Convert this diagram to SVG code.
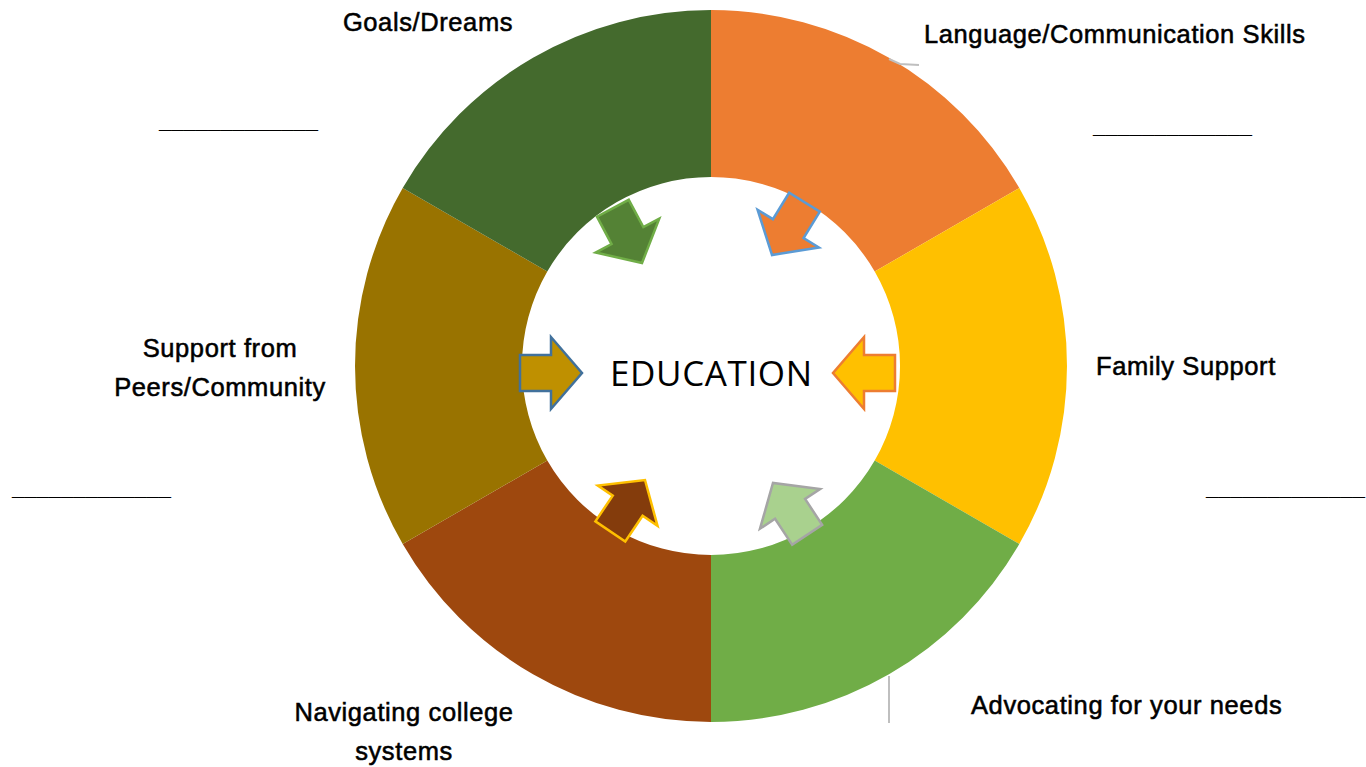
<svg xmlns="http://www.w3.org/2000/svg" xmlns:xlink="http://www.w3.org/1999/xlink" width="1366" height="767" viewBox="0 0 1366 767">
<style>
.lbl{font-family:"Liberation Sans",Arial,sans-serif;font-size:25.5px;letter-spacing:0.6px;fill:#000;stroke:#000;stroke-width:0.55px}
.c{text-anchor:middle}
.ul{font-family:"Liberation Sans",Arial,sans-serif;font-size:22px;font-weight:bold;fill:#000}
.ctr{font-family:"Open Sans","Noto Sans",sans-serif;font-size:35px;fill:#000;text-anchor:middle}
.arr{stroke-width:2.5;stroke-linejoin:miter}
.lead{fill:none;stroke:#BFBFBF;stroke-width:2}
</style>
<defs>
<polygon id="arrow" points="-62,-18 -31,-18 -31,-36 0,0 -31,36 -31,18 -62,18"/>
</defs>
<rect width="1366" height="767" fill="#fff"/>
<g id="ring">
<path id="seg-language" d="M711,10 A356,356 0 0 1 1019.3,188 L874.7,271.5 A189,189 0 0 0 711,177 Z" fill="#ED7D31"/>
<path id="seg-family" d="M1019.3,188 A356,356 0 0 1 1019.3,544 L874.7,460.5 A189,189 0 0 0 874.7,271.5 Z" fill="#FFC000"/>
<path id="seg-advocating" d="M1019.3,544 A356,356 0 0 1 711,722 L711,555 A189,189 0 0 0 874.7,460.5 Z" fill="#70AD47"/>
<path id="seg-navigating" d="M711,722 A356,356 0 0 1 402.7,544 L547.3,460.5 A189,189 0 0 0 711,555 Z" fill="#9E480E"/>
<path id="seg-support" d="M402.7,544 A356,356 0 0 1 402.7,188 L547.3,271.5 A189,189 0 0 0 547.3,460.5 Z" fill="#997300"/>
<path id="seg-goals" d="M402.7,188 A356,356 0 0 1 711,10 L711,177 A189,189 0 0 0 547.3,271.5 Z" fill="#446A2D"/>
</g>
<g id="connectors">
<polyline class="lead" points="889,59 900,64 919,65" stroke="#A5A5A5"/>
<line class="lead" x1="889" y1="676" x2="889" y2="723"/>
</g>
<g id="arrows">
<use xlink:href="#arrow" class="arr" transform="translate(642,263) rotate(62)" fill="#548235" stroke="#70AD47"/>
<use xlink:href="#arrow" class="arr" transform="translate(772,255) rotate(121.6)" fill="#ED7D31" stroke="#5B9BD5"/>
<use xlink:href="#arrow" class="arr" transform="translate(582,373)" fill="#BF9000" stroke="#41719C"/>
<use xlink:href="#arrow" class="arr" transform="translate(833,373) rotate(180)" fill="#FFC000" stroke="#ED7D31"/>
<use xlink:href="#arrow" class="arr" transform="translate(645,480) rotate(-56)" fill="#843C0C" stroke="#FFC000"/>
<use xlink:href="#arrow" class="arr" transform="translate(773,483) rotate(-123.4)" fill="#A9D18E" stroke="#A5A5A5"/>
</g>
<g id="center">
<text class="ctr" x="711" y="386" textLength="202" lengthAdjust="spacing">EDUCATION</text>
</g>
<g id="label-goals"><text class="lbl c" x="428" y="31">Goals/Dreams</text></g>
<g id="label-language"><text class="lbl" x="924" y="43">Language/Communication Skills</text></g>
<g id="label-family"><text class="lbl" x="1096" y="375">Family Support</text></g>
<g id="label-advocating"><text class="lbl" x="971" y="714">Advocating for your needs</text></g>
<g id="label-navigating"><text class="lbl c" x="404" y="721">Navigating college</text><text class="lbl c" x="404" y="760">systems</text></g>
<g id="label-support"><text class="lbl c" x="220" y="357">Support from</text><text class="lbl c" x="220" y="396">Peers/Community</text></g>
<g id="blanks">
<text class="ul" x="159" y="128">_____________</text>
<text class="ul" x="1093" y="133">_____________</text>
<text class="ul" x="12" y="495">_____________</text>
<text class="ul" x="1206" y="495">_____________</text>
</g>
</svg>
